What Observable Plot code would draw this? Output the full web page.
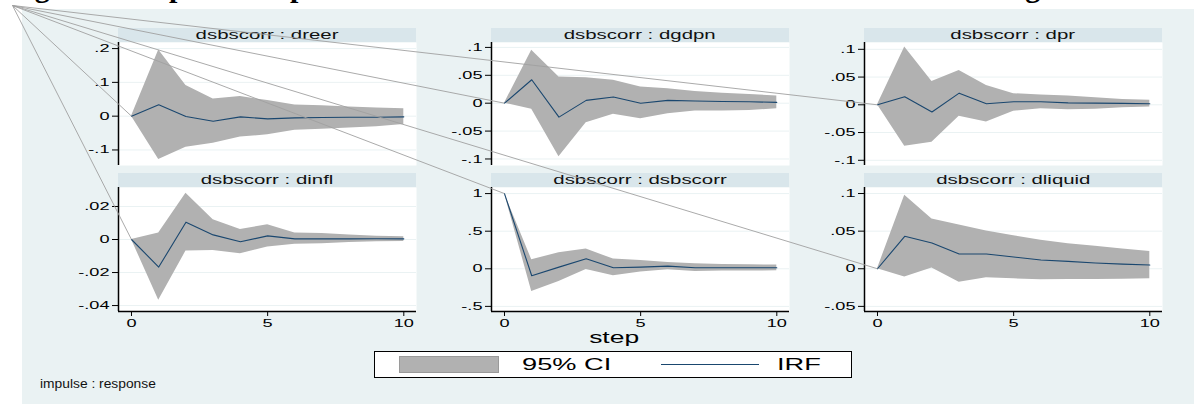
<!DOCTYPE html>
<html><head><meta charset="utf-8">
<script src="https://cdn.jsdelivr.net/npm/d3@7"></script>
<script src="https://cdn.jsdelivr.net/npm/@observablehq/plot@0.6"></script>
<style>
body{margin:0;background:#fff;}
#root{position:relative;width:1194px;height:404px;overflow:hidden;font-family:"Liberation Sans",Arial,sans-serif;}
.abs{position:absolute;}
.hdr{position:absolute;height:14px;line-height:14px;background:#d9e6eb;text-align:center;font-size:12px;color:#111;white-space:nowrap;}
.sx{display:inline-block;white-space:nowrap;}
</style></head><body><div id="root"></div>
<script>
// ---------------- data ----------------
const steps = [0,1,2,3,4,5,6,7,8,9,10];
const impulse = "dsbscorr";
const responses = ["dreer","dgdpn","dpr","dinfl","dsbscorr","dliquid"];

const irfDreer = [0, 0.0335, -0.001, -0.015, -0.002, -0.008, -0.005, -0.004, -0.003, -0.003, -0.002];
const loDreer  = [0, -0.128, -0.092, -0.080, -0.062, -0.055, -0.042, -0.039, -0.035, -0.031, -0.025];
const hiDreer  = [0, 0.196, 0.091, 0.051, 0.058, 0.046, 0.033, 0.031, 0.027, 0.024, 0.022];

const irfDgdpn = [0, 0.042, -0.025, 0.005, 0.011, 0, 0.005, 0.004, 0.003, 0.0025, 0.0015];
const loDgdpn  = [0, -0.011, -0.096, -0.035, -0.020, -0.028, -0.019, -0.014, -0.014, -0.013, -0.010];
const hiDgdpn  = [0, 0.095, 0.047, 0.0455, 0.041, 0.029, 0.026, 0.021, 0.018, 0.0155, 0.013];

const irfDpr = [0, 0.0145, -0.013, 0.021, 0.002, 0.0055, 0.0055, 0.0035, 0.003, 0.0025, 0.002];
const loDpr  = [0, -0.0747, -0.0675, -0.0205, -0.031, -0.0115, -0.0072, -0.009, -0.0078, -0.0054, -0.004];
const hiDpr  = [0, 0.104, 0.042, 0.062, 0.035, 0.020, 0.0175, 0.0157, 0.0127, 0.0096, 0.008];

const irfDinfl = [0, -0.0167, 0.0105, 0.0028, -0.0014, 0.0022, 0.0004, 0.0004, 0.0004, 0.0005, 0.0004];
const loDinfl  = [0, -0.0368, -0.007, -0.0066, -0.0086, -0.0046, -0.0028, -0.0026, -0.0018, -0.0014, -0.0012];
const hiDinfl  = [0, 0.004, 0.028, 0.0119, 0.006, 0.009, 0.004, 0.0036, 0.0028, 0.002, 0.0016];

const irfDsbscorr = [1, -0.093, 0.022, 0.133, 0.013, 0.022, 0.036, 0.013, 0.013, 0.013, 0.013];
const loDsbscorr  = [1, -0.302, -0.169, -0.009, -0.093, -0.044, -0.013, -0.036, -0.031, -0.031, -0.027];
const hiDsbscorr  = [1, 0.12, 0.213, 0.262, 0.129, 0.111, 0.084, 0.067, 0.058, 0.053, 0.049];

const irfDliquid = [0, 0.0431, 0.0342, 0.0196, 0.0196, 0.0156, 0.0116, 0.0098, 0.0076, 0.0062, 0.0049];
const loDliquid  = [0, -0.0111, 0.0009, -0.0178, -0.012, -0.0133, -0.0147, -0.0142, -0.0142, -0.0138, -0.0133];
const hiDliquid  = [0, 0.0978, 0.0662, 0.0582, 0.0502, 0.044, 0.0378, 0.0333, 0.0298, 0.0262, 0.0231];

const xTicks = [0, 5, 10];
const yTicksDreer = [-0.1, 0, 0.1, 0.2];
const yTicksDgdpn = [-0.1, -0.05, 0, 0.05, 0.1];
const yTicksDpr = [-0.1, -0.05, 0, 0.05, 0.1];
const yTicksDinfl = [-0.04, -0.02, 0, 0.02];
const yTicksDsbscorr = [-0.5, 0, 0.5, 1];
const yTicksDliquid = [-0.05, 0, 0.05, 0.1];

const titleText = "Figure 4: Impulse Response Functions of Macroeconomic Variables to a Banking Shock";
const xTitle = "step";
const legendLabels = ["95% CI", "IRF"];
const noteText = "impulse : response";

// ---------------- layout / style ----------------
const BG = "#eaf2f3", CI = "#b1b1b1", LINE = "#1a476f";
const colAxisX = [118, 491, 864];
const rowTop = [42, 187];
const rowH = [123, 124];
const plotW = 298;
const xDomain = [-0.477, 10.466];
const yDomains = {
  dreer: [-0.146, 0.218], dgdpn: [-0.1117, 0.1088], dpr: [-0.1094, 0.1123],
  dinfl: [-0.0436, 0.0315], dsbscorr: [-0.568, 1.081], dliquid: [-0.0568, 0.108]
};
const series = {
  dreer: [irfDreer, loDreer, hiDreer, yTicksDreer],
  dgdpn: [irfDgdpn, loDgdpn, hiDgdpn, yTicksDgdpn],
  dpr: [irfDpr, loDpr, hiDpr, yTicksDpr],
  dinfl: [irfDinfl, loDinfl, hiDinfl, yTicksDinfl],
  dsbscorr: [irfDsbscorr, loDsbscorr, hiDsbscorr, yTicksDsbscorr],
  dliquid: [irfDliquid, loDliquid, hiDliquid, yTicksDliquid]
};
const stataFmt = d => String(+d.toFixed(4)).replace(/^(-?)0\./, "$1.");
const TICK_SX = 1.65;

const root = document.getElementById("root");
function addDiv(css, text, cls, sx, origin) {
  const el = document.createElement("div");
  el.className = cls || "abs";
  el.style.cssText += css;
  if (text != null) {
    const sp = document.createElement("span");
    sp.className = "sx";
    sp.textContent = text;
    if (sx) { sp.style.transform = `scaleX(${sx})`; sp.style.transformOrigin = origin || "center"; }
    el.appendChild(sp);
  }
  root.appendChild(el);
  return el;
}
// widen the SVG tick texts (the reference is horizontally stretched)
function stretchTexts(svg, sx) {
  svg.querySelectorAll("text").forEach(t => {
    const tr = t.getAttribute("transform");
    if (tr) t.setAttribute("transform", tr + ` scale(${sx},1)`);
    else {
      const x = +(t.getAttribute("x") || 0), y = +(t.getAttribute("y") || 0);
      t.setAttribute("transform", `translate(${x},${y}) scale(${sx},1) translate(${-x},${-y})`);
    }
  });
}

// title (only its descenders show at the top of the picture)
addDiv("left:8px;top:-28px;white-space:nowrap;font-family:'Liberation Serif',serif;font-weight:bold;font-size:30px;line-height:30px;color:#000;", titleText);
// graph background
addDiv(`left:22px;top:9px;width:1172px;height:395px;background:${BG};`);

const ML = 50;
const ends = [];
responses.forEach((resp, i) => {
  const col = i % 3, row = Math.floor(i / 3);
  const [irf, lo, hi, yT] = series[resp];
  const data = steps.map((s, k) => ({step: s, irf: irf[k], lo: lo[k], hi: hi[k]}));
  const bottom = row === 1;
  const MB = bottom ? 26 : 0;
  const yDom = yDomains[resp];
  const marks = [
    Plot.frame({fill: "#fff", stroke: "none"}),
    Plot.gridY(yT, {stroke: BG, strokeOpacity: 1, strokeWidth: 1}),
    Plot.areaY(data, {x: "step", y1: "lo", y2: "hi", fill: CI, fillOpacity: 1}),
    Plot.lineY(data, {x: "step", y: "irf", stroke: LINE, strokeWidth: 1.1}),
    Plot.ruleX([xDomain[0]], {stroke: "#000", strokeWidth: 1.5}),
    Plot.axisY(yT, {tickFormat: stataFmt, tickSize: 6, tickPadding: 3, fontSize: 11, label: null})
  ];
  if (bottom) {
    marks.push(Plot.ruleY([yDom[0]], {stroke: "#000", strokeWidth: 1.5}));
    marks.push(Plot.axisX(xTicks, {tickSize: 5, tickPadding: 3, fontSize: 11, label: null}));
  }
  const p = Plot.plot({
    width: ML + plotW, height: rowH[row] + MB,
    marginLeft: ML, marginRight: 0, marginTop: 0, marginBottom: MB,
    x: {domain: xDomain, axis: null},
    y: {domain: yDom, axis: null},
    style: {background: "transparent", overflow: "visible", color: "#000", fontFamily: "'Liberation Sans',Arial,sans-serif"},
    marks
  });
  stretchTexts(p, TICK_SX);
  const left = colAxisX[col] - ML, top = rowTop[row];
  p.style.position = "absolute";
  p.style.left = left + "px";
  p.style.top = top + "px";
  root.appendChild(p);
  addDiv(`left:${colAxisX[col]}px;top:${top - 14}px;width:${plotW}px;`, `${impulse} : ${resp}`, "hdr", 1.7);
  ends.push({x: left + p.scale("x").apply(0), y: top + p.scale("y").apply(irf[0])});
});

// x title
addDiv("left:514px;width:200px;top:328px;text-align:center;font-size:16px;line-height:20px;color:#000;", xTitle, null, 1.65);

// legend
const lg = addDiv(`left:374px;top:351px;width:476px;height:25px;border:1px solid #000;background:#fff;`);
lg.innerHTML = `
<div class="abs" style="left:24px;top:4px;width:98px;height:15px;background:${CI};border:1px solid #9a9a9a;"></div>
<div class="abs" style="left:147px;top:2px;font-size:16px;line-height:21px;color:#000;"><span class="sx" style="transform:scaleX(1.7);transform-origin:left;">${legendLabels[0]}</span></div>
<div class="abs" style="left:286px;top:12px;width:98px;height:1px;background:${LINE};"></div>
<div class="abs" style="left:402px;top:2px;font-size:16px;line-height:21px;color:#000;"><span class="sx" style="transform:scaleX(1.7);transform-origin:left;">${legendLabels[1]}</span></div>`;

// note
addDiv("left:40px;top:376px;font-size:12px;line-height:16px;color:#111;", noteText, null, 1.15, "left");

// overlay connector lines from the top-left corner to each panel's step-0 point
const origin = [12, 5];
const ov = Plot.plot({
  width: 1194, height: 404, margin: 0,
  x: {type: "identity", axis: null}, y: {type: "identity", axis: null},
  style: {background: "transparent"},
  marks: [Plot.link(ends, {x1: () => origin[0], y1: () => origin[1], x2: "x", y2: "y", stroke: "#a0a0a0", strokeWidth: 0.9})]
});
ov.style.position = "absolute"; ov.style.left = "0px"; ov.style.top = "0px"; ov.style.pointerEvents = "none";
root.appendChild(ov);
</script></body></html>
